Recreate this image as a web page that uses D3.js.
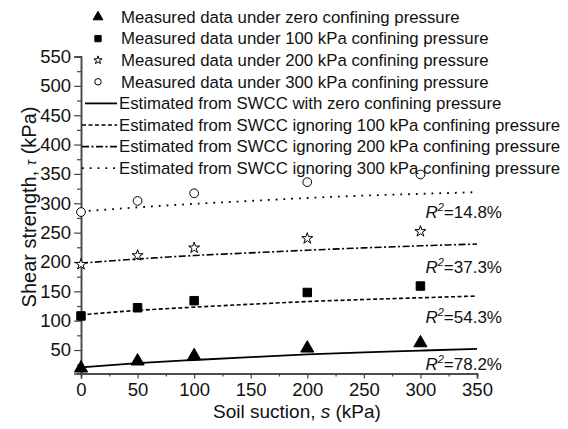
<!DOCTYPE html>
<html>
<head>
<meta charset="utf-8">
<script src="https://cdn.jsdelivr.net/npm/d3@7"></script>
<style>
  body { margin: 0; background: #fff; }
  text { font-family: "Liberation Sans", Arial, sans-serif; fill: #111; }
</style>
</head>
<body>
<svg width="568" height="429"></svg>
<script>
const suction = [0, 50, 100, 200, 300];
const measured0 = [19, 31, 40, 53, 62];
const measured100 = [108, 122, 134, 148, 159];
const measured200 = [196, 211, 224, 240, 252];
const measured300 = [285, 304, 317, 336, 349];

const fitSuction = [0, 50, 100, 150, 200, 250, 300, 350];
const fit0 = [20.5, 27.5, 33, 38, 42.5, 46, 49, 52];
const fit100 = [110, 117.5, 123, 128, 132.5, 136, 139, 142];
const fit200 = [198, 205, 211, 215.5, 220, 224, 227.5, 230.5];
const fit300 = [286, 293, 299, 304, 309, 313, 316, 319];

const r2Labels = ['14.8%', '37.3%', '54.3%', '78.2%'];
const r2Values = [285, 191, 106, 26];

const legendLabels = [
  'Measured data under zero confining pressure',
  'Measured data under 100 kPa confining pressure',
  'Measured data under 200 kPa confining pressure',
  'Measured data under 300 kPa confining pressure',
  'Estimated from SWCC with zero confining pressure',
  'Estimated from SWCC ignoring 100 kPa confining pressure',
  'Estimated from SWCC ignoring 200 kPa confining pressure',
  'Estimated from SWCC ignoring 300 kPa confining pressure'
];

const svg = d3.select('svg');

const x = d3.scaleLinear().domain([0, 350]).range([81, 477]);
const y = d3.scaleLinear().domain([10, 550]).range([373.5, 56.5]);

// axes
const xAxis = d3.axisBottom(x).tickValues(d3.range(0, 351, 50)).tickSize(5).tickPadding(4);
const xMinor = d3.axisBottom(x).tickValues(d3.range(25, 350, 50)).tickSize(3).tickFormat('');
const yAxis = d3.axisLeft(y).tickValues(d3.range(50, 551, 50)).tickSize(7).tickPadding(3);
const yMinor = d3.axisLeft(y).tickValues(d3.range(25, 550, 50)).tickSize(4).tickFormat('');

function styleAxis(g) {
  g.select('.domain').attr('stroke', '#444').attr('stroke-width', 1.5);
  g.selectAll('.tick line').attr('stroke', '#444').attr('stroke-width', 1.2);
  g.selectAll('.tick text').style('font-size', '18.5px').attr('fill', '#111')
    .style('font-family', '"Liberation Sans", Arial, sans-serif');
}

svg.append('g').attr('transform', 'translate(0,373.5)').call(xMinor).call(styleAxis);
svg.append('g').attr('transform', 'translate(0,373.5)').call(xAxis).call(styleAxis);
svg.append('g').attr('transform', 'translate(81,0)').call(yMinor).call(styleAxis);
svg.append('g').attr('transform', 'translate(81,0)').call(yAxis).call(styleAxis);

// axis titles
const xt = svg.append('text')
  .attr('x', 297).attr('y', 418)
  .attr('text-anchor', 'middle')
  .style('font-size', '19px');
xt.append('tspan').text('Soil suction, ');
xt.append('tspan').style('font-style', 'italic').text('s');
xt.append('tspan').text(' (kPa)');

const yt = svg.append('text')
  .attr('transform', 'translate(36,' + 207 + ') rotate(-90)')
  .attr('text-anchor', 'middle')
  .style('font-size', '20px');
yt.append('tspan').text('Shear strength, ');
yt.append('tspan').style('font-style', 'italic').style('font-size', '14px').text('τ');
yt.append('tspan').text(' (kPa)');

// fitted lines
const fits = [fit0, fit100, fit200, fit300];
const dashes = [null, '4,2.5', '7,2.5,2,2.5', '1.8,6'];
const lineWidths = [1.8, 1.6, 1.6, 1.8];

fits.forEach(function(f, i) {
  const line = d3.line()
    .x(function(d, j) { return x(fitSuction[j]); })
    .y(function(d) { return y(d); })
    .curve(d3.curveMonotoneX);
  svg.append('path')
    .datum(f)
    .attr('d', line)
    .attr('fill', 'none')
    .attr('stroke', '#000')
    .attr('stroke-width', lineWidths[i])
    .attr('stroke-dasharray', dashes[i]);
});

// markers
const symbols = [
  { type: d3.symbolTriangle, size: 75, fill: '#000' },
  { type: d3.symbolSquare, size: 72, fill: '#000' },
  { type: d3.symbolStar, size: 38, fill: '#fff' },
  { type: d3.symbolCircle, size: 60, fill: '#fff' }
];
const measured = [measured0, measured100, measured200, measured300];

measured.forEach(function(m, i) {
  const s = symbols[i];
  svg.append('g').selectAll('path')
    .data(m)
    .enter()
    .append('path')
    .attr('transform', function(d, j) { return 'translate(' + x(suction[j]) + ',' + y(d) + ')'; })
    .attr('d', d3.symbol().type(s.type).size(s.size))
    .attr('fill', s.fill)
    .attr('stroke', '#000')
    .attr('stroke-width', 1);
});

// R2 labels
r2Labels.forEach(function(lbl, i) {
  const t = svg.append('text')
    .attr('x', 502).attr('y', y(r2Values[i]))
    .attr('dy', '0.35em')
    .attr('text-anchor', 'end')
    .style('font-size', '17px');
  t.append('tspan').style('font-style', 'italic').text('R');
  t.append('tspan').attr('dy', -7).style('font-size', '11px').style('font-style', 'italic').text('2');
  t.append('tspan').attr('dy', 7).text('=' + lbl);
});

// legend
const legendY = d3.range(8).map(function(i) { return 17 + i * 21.6; });
const legend = svg.append('g');
legendLabels.forEach(function(lbl, i) {
  const ly = legendY[i];
  if (i < 4) {
    const s = symbols[i];
    legend.append('path')
      .attr('transform', 'translate(98,' + ly + ')')
      .attr('d', d3.symbol().type(s.type).size(s.size * 0.55))
      .attr('fill', s.fill)
      .attr('stroke', '#000')
      .attr('stroke-width', 1);
  } else {
    legend.append('line')
      .attr('x1', i === 4 ? 85 : 82).attr('x2', 117)
      .attr('y1', ly).attr('y2', ly)
      .attr('stroke', '#000')
      .attr('stroke-width', lineWidths[i - 4])
      .attr('stroke-dasharray', dashes[i - 4]);
  }
  legend.append('text')
    .attr('x', i < 4 ? 121 : 119)
    .attr('y', ly)
    .attr('dy', '0.35em')
    .style('font-size', '16.8px')
    .text(lbl);
});
</script>
</body>
</html>
